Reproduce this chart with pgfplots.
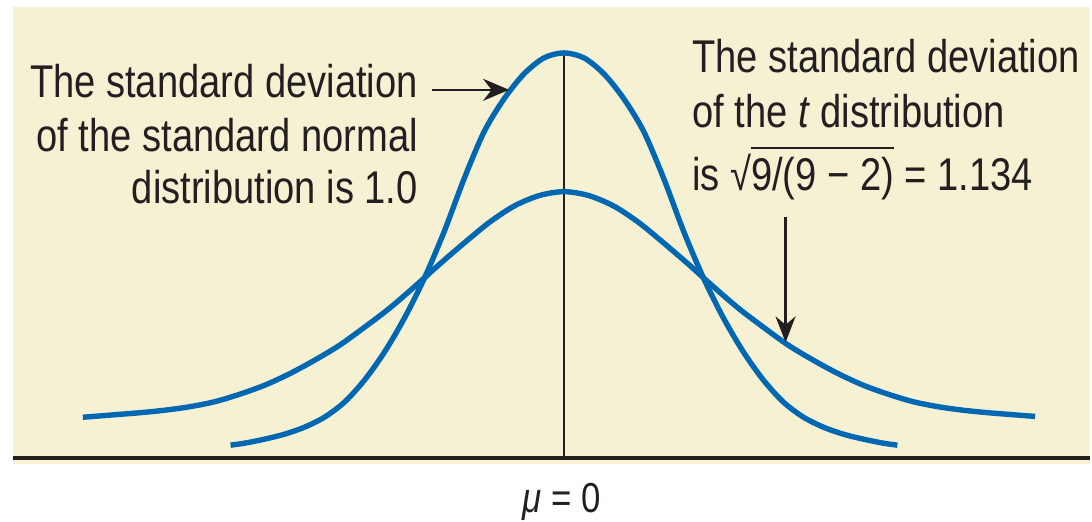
\documentclass[border=0pt]{standalone}
\usepackage{pgfplots}
\pgfplotsset{compat=1.18}
\usepackage{pgfplotstable}
\usepackage{fontspec}
\setmainfont{Liberation Sans}[FakeStretch=0.83]
\usetikzlibrary{arrows.meta}
\definecolor{panel}{RGB}{246,241,211}
\definecolor{curve}{RGB}{0,103,178}
\definecolor{ink}{RGB}{35,31,32}

% standard normal (x, height)
\pgfplotstableread{
x y
-334 13
-320 15
-300 19
-280 24
-260 31
-240 41
-220 56
-200 78
-180 106
-160 140
-140 180
-120 227
-100 280
-80 327
-60 360
-40 385
-20 401
0 406
20 401
40 385
60 360
80 327
100 280
120 227
140 180
160 140
180 106
200 78
220 56
240 41
260 31
280 24
300 19
320 15
334 13
}\normaltab

% t distribution, 7 df
\pgfplotstableread{
x y
-482 41
-475 41.5
-450 43.5
-425 45.5
-400 48
-375 51.5
-350 56.5
-325 64
-300 73
-275 84.5
-250 98
-225 113
-200 131
-175 150
-150 171.5
-125 194
-100 215.5
-75 236
-50 252.5
-25 263
0 267
25 263
50 252.5
75 236
100 215.5
125 194
150 171.5
175 150
200 131
225 113
250 98
275 84.5
300 73
325 64
350 56.5
375 51.5
400 48
425 45.5
450 43.5
472 41.8
}\ttab

\newcommand\txt{\fontsize{23pt}{27pt}\selectfont\color{ink}}
\newcommand\ovl[1]{\setbox0\hbox{#1}\rlap{\rule[21pt]{\wd0}{0.9pt}}\box0\relax}

\begin{document}
\begin{tikzpicture}
\begin{axis}[x=0.5pt,y=0.5pt,xmin=-552,xmax=527,ymin=-6,ymax=452,
  axis lines=none,ticks=none,clip=false,
  axis background/.style={fill=panel}]
\path (axis cs:-565,-63) rectangle (axis cs:527,459);
\draw[ink,line width=2pt] (axis cs:-552,0) -- (axis cs:527,0);
\draw[ink,line width=1pt] (axis cs:0,0) -- (axis cs:0,406);
\addplot[curve,line width=2.7pt,smooth] table {\normaltab};
\addplot[curve,line width=2.7pt,smooth] table {\ttab};
% left label
\node[anchor=base east,inner sep=0] at (axis cs:-146,361) {\txt The standard deviation};
\node[anchor=base east,inner sep=0] at (axis cs:-146,307) {\txt of the standard normal};
\node[anchor=base east,inner sep=0] at (axis cs:-146,255) {\txt distribution is 1.0};
\draw[ink,line width=1.2pt,-{Stealth[length=13pt,width=11pt]}] (axis cs:-132,369) -- (axis cs:-55,369);
% right label
\node[anchor=base west,inner sep=0] at (axis cs:128,386) {\txt The standard deviation};
\node[anchor=base west,inner sep=0] at (axis cs:128,331) {\txt of the \textit{t} distribution};
\node[anchor=base west,inner sep=0] at (axis cs:128,268) {\txt is √\ovl{9/(9 − 2)} = 1.134};
\draw[ink,line width=1.2pt,-{Stealth[length=13pt,width=10pt]}] (axis cs:222,242) -- (axis cs:222,116);
% mean
\node[anchor=base,inner sep=0] at (axis cs:-2,-54) {\fontsize{21pt}{24pt}\selectfont\color{ink}\textit{μ} = 0};
\end{axis}
\end{tikzpicture}
\end{document}
